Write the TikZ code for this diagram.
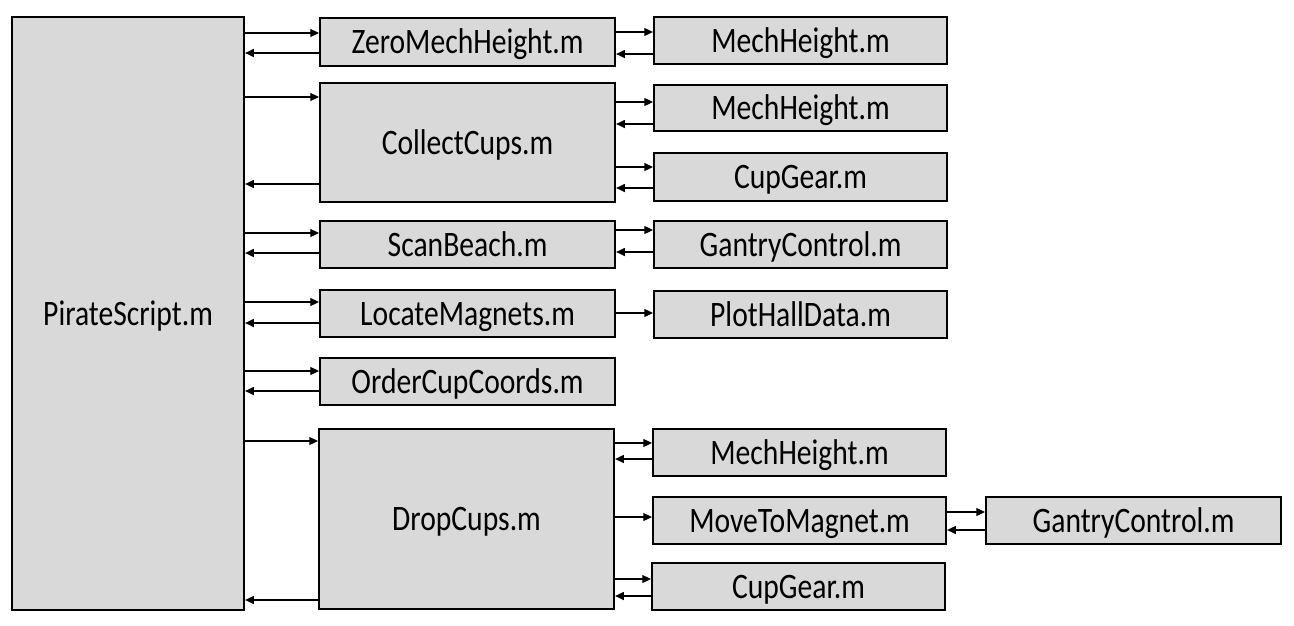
\documentclass[tikz,border=0pt]{standalone}
\usepackage{fontspec}
\usepackage{graphicx}
\setmainfont{Carlito}
\usetikzlibrary{arrows.meta}
\newcommand\tallt[1]{\scalebox{1}[1.21]{#1}}
\begin{document}
\begin{tikzpicture}[x=0.75pt,y=-0.75pt,
  box/.style={draw=black,line width=1.6pt,fill={rgb,255:red,217;green,217;blue,217},inner sep=0pt,anchor=north west,text height=17.25pt,text depth=0pt,font=\fontsize{22.2}{26}\selectfont},
  arr/.style={line width=0.8pt,-{Triangle[length=6.5pt,width=6pt]}}]
\useasboundingbox (0,0) rectangle (1294,625);
% boxes
\node[box,minimum width=232*0.75pt,minimum height=593*0.75pt] (P) at (11,16) {\tallt{PirateScript.m}};
\node[box,minimum width=295*0.75pt,minimum height=48*0.75pt] (Z) at (319,17) {\tallt{ZeroMechHeight.m}};
\node[box,minimum width=293*0.75pt,minimum height=47*0.75pt] (M1) at (653,16) {\tallt{MechHeight.m}};
\node[box,minimum width=295*0.75pt,minimum height=119*0.75pt] (C) at (319,82) {\tallt{CollectCups.m}};
\node[box,minimum width=293*0.75pt,minimum height=46*0.75pt] (M2) at (653,84) {\tallt{MechHeight.m}};
\node[box,minimum width=293*0.75pt,minimum height=48*0.75pt] (G1) at (653,152) {\tallt{CupGear.m}};
\node[box,minimum width=295*0.75pt,minimum height=47*0.75pt] (S) at (319,220) {\tallt{ScanBeach.m}};
\node[box,minimum width=293*0.75pt,minimum height=47*0.75pt] (GC1) at (653,220) {\tallt{GantryControl.m}};
\node[box,minimum width=295*0.75pt,minimum height=47*0.75pt] (L) at (319,289) {\tallt{LocateMagnets.m}};
\node[box,minimum width=293*0.75pt,minimum height=47*0.75pt] (PH) at (653,290) {\tallt{PlotHallData.m}};
\node[box,minimum width=295*0.75pt,minimum height=47*0.75pt] (O) at (319,357) {\tallt{OrderCupCoords.m}};
\node[box,minimum width=295*0.75pt,minimum height=180*0.75pt] (D) at (318,428) {\tallt{DropCups.m}};
\node[box,minimum width=293*0.75pt,minimum height=47*0.75pt] (M3) at (652,428) {\tallt{MechHeight.m}};
\node[box,minimum width=293*0.75pt,minimum height=47*0.75pt] (MM) at (652,496) {\tallt{MoveToMagnet.m}};
\node[box,minimum width=295*0.75pt,minimum height=47*0.75pt] (GC2) at (985,496) {\tallt{GantryControl.m}};
\node[box,minimum width=293*0.75pt,minimum height=47*0.75pt] (G2) at (651,562) {\tallt{CupGear.m}};
% PirateScript <-> level 1
\draw[arr] (P.east |- 0,33) -- (Z.west |- 0,33);
\draw[arr] (Z.west |- 0,53) -- (P.east |- 0,53);
\draw[arr] (P.east |- 0,97) -- (C.west |- 0,97);
\draw[arr] (C.west |- 0,184) -- (P.east |- 0,184);
\draw[arr] (P.east |- 0,233) -- (S.west |- 0,233);
\draw[arr] (S.west |- 0,253) -- (P.east |- 0,253);
\draw[arr] (P.east |- 0,302) -- (L.west |- 0,302);
\draw[arr] (L.west |- 0,323) -- (P.east |- 0,323);
\draw[arr] (P.east |- 0,371) -- (O.west |- 0,371);
\draw[arr] (O.west |- 0,391) -- (P.east |- 0,391);
\draw[arr] (P.east |- 0,441) -- (D.west |- 0,441);
\draw[arr] (D.west |- 0,600) -- (P.east |- 0,600);
% level 1 <-> level 2
\draw[arr] (Z.east |- 0,32) -- (M1.west |- 0,32);
\draw[arr] (M1.west |- 0,54) -- (Z.east |- 0,54);
\draw[arr] (C.east |- 0,102) -- (M2.west |- 0,102);
\draw[arr] (M2.west |- 0,124) -- (C.east |- 0,124);
\draw[arr] (C.east |- 0,167) -- (G1.west |- 0,167);
\draw[arr] (G1.west |- 0,188) -- (C.east |- 0,188);
\draw[arr] (S.east |- 0,230) -- (GC1.west |- 0,230);
\draw[arr] (GC1.west |- 0,252) -- (S.east |- 0,252);
\draw[arr] (L.east |- 0,313) -- (PH.west |- 0,313);
\draw[arr] (D.east |- 0,443) -- (M3.west |- 0,443);
\draw[arr] (M3.west |- 0,459) -- (D.east |- 0,459);
\draw[arr] (D.east |- 0,517) -- (MM.west |- 0,517);
\draw[arr] (D.east |- 0,579) -- (G2.west |- 0,579);
\draw[arr] (G2.west |- 0,596) -- (D.east |- 0,596);
% level 2 <-> level 3
\draw[arr] (MM.east |- 0,512) -- (GC2.west |- 0,512);
\draw[arr] (GC2.west |- 0,530) -- (MM.east |- 0,530);
\end{tikzpicture}
\end{document}
